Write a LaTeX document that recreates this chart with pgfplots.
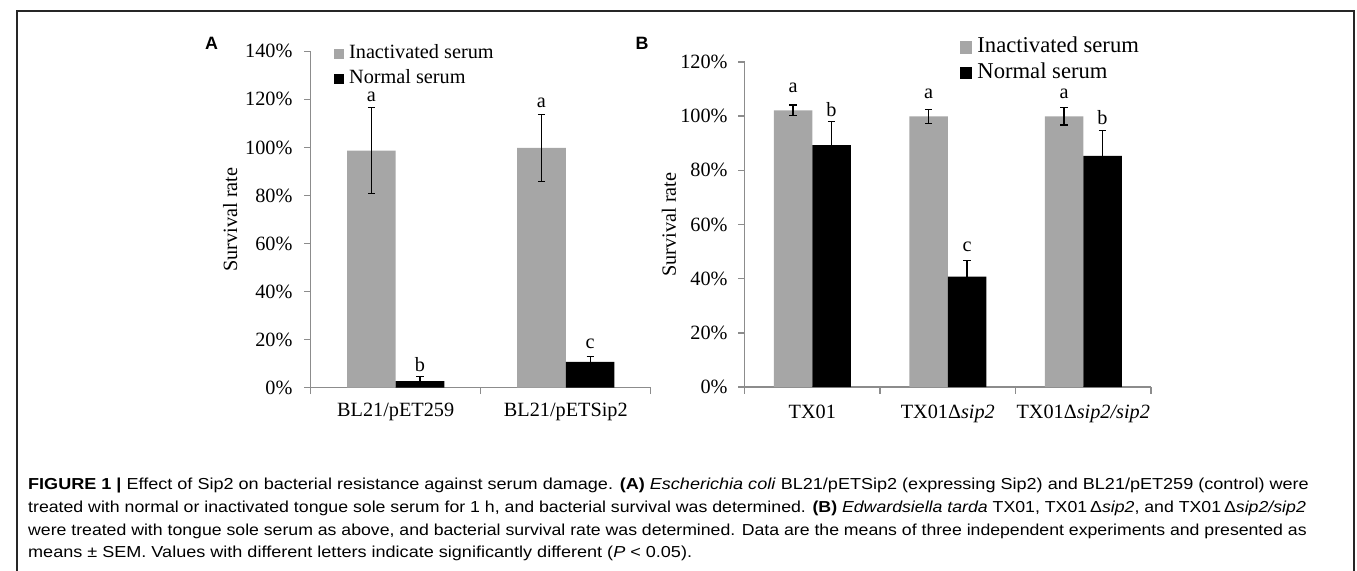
\documentclass[border=0pt]{standalone}
\usepackage{fontspec}
\setmainfont{Liberation Serif}
\newfontfamily\capfont{Liberation Sans}
\usepackage{graphicx}
\usepackage{pgfplots}
\pgfplotsset{compat=1.18}

\definecolor{bargray}{HTML}{A6A6A6}
\definecolor{axgray}{HTML}{8C8C8C}

\newcommand{\tfont}{\fontsize{10.2}{12}\selectfont}
\newcommand{\cfont}{\capfont\fontsize{8}{10}\selectfont}
\tikzset{letter/.style={font=\tfont, anchor=base, inner sep=0pt}}

\newsavebox\capline
\newcommand{\lineone}{\textbf{FIGURE 1 |} Effect of Sip2 on bacterial resistance against serum damage. \textbf{(A)} \textit{Escherichia coli} BL21/pETSip2 (expressing Sip2) and BL21/pET259 (control) were}

\pgfplotsset{
  panel/.style={
    scale only axis, anchor=south west,
    axis x line*=bottom, axis y line*=left,
    axis line style={draw=axgray, line width=0.7pt, -},
    tick style={draw=axgray, line width=0.7pt},
    tick align=outside,
    major tick length=3.2pt,
    ybar=0pt,
    ymin=0,
    xticklabels={},
    extra x tick style={major tick length=0pt,
      xticklabel style={anchor=base, inner sep=0pt}},
    tick label style={font=\tfont},
    yticklabel style={anchor=east, inner sep=0pt},
    ylabel={Survival rate},
    ylabel style={font=\tfont, anchor=center},
    legend image code/.code={\fill[##1] (0pt,0pt) rectangle (5pt,5pt);},
    legend style={draw=none, fill=none, inner sep=0pt, outer sep=0pt,
      anchor=north west, row sep=4.5pt,
      nodes={inner sep=0pt, text height=7pt, text depth=1pt, anchor=base west},
      /tikz/every odd column/.style={column sep=2.5pt}},
    error bars/error bar style={black, line width=0.6pt},
    error bars/error mark options={rotate=90, mark size=1.8pt, line width=0.6pt, black},
  },
  panelB legend/.style={
    legend image code/.code={\fill[##1] (0pt,-0.35pt) rectangle (6.5pt,6.15pt);},
  },
}

\begin{document}
\sbox\capline{\cfont\lineone}
\pgfmathsetmacro\capratio{645pt/\wd\capline}
\begin{tikzpicture}
\useasboundingbox (0,0) rectangle (678.5pt,-287.5pt);
\draw[line width=0.7pt, black!85] (3.5pt,-300pt) -- (3.5pt,-5.5pt) -- (677pt,-5.5pt) -- (677pt,-300pt);

% Panel A
\begin{axis}[panel,
  at={(151.5pt,-195.25pt)},
  width=171.3pt, height=169.4pt,
  xmin=-0.5, xmax=1.5,
  xtick={-0.5,0.5,1.5},
  extra x ticks={0,1},
  extra x tick labels={BL21/pET259, BL21/pETSip2},
  extra x tick style={xticklabel style={yshift=-14.65pt}},
  ymax=140, ytick={0,20,...,140},
  yticklabels={0\%,20\%,40\%,60\%,80\%,100\%,120\%,140\%},
  yticklabel style={xshift=-5.8pt},
  ylabel style={at={(axis description cs:-0.2364,0.5)}},
  bar width=24.5pt,
  legend style={at={(axis description cs:0.0692,1.0189)}, font=\tfont},
]
\addplot[fill=bargray, draw=none, error bars/.cd, y dir=both, y explicit]
  coordinates {(0,98.7) +- (0,18.0) (1,99.8) +- (0,14.0)};
\addplot[fill=black, draw=none, error bars/.cd, y dir=both, y explicit]
  coordinates {(0,2.7) +- (0,1.9) (1,10.7) +- (0,2.2)};
\legend{Inactivated serum, Normal serum}
\node[letter, xshift=-12.25pt] at (axis cs:0,119.0) {a};
\node[letter, xshift=-12.25pt] at (axis cs:1,116.5) {a};
\node[letter, xshift=12.25pt] at (axis cs:0,6.9) {b};
\node[letter, xshift=12.25pt] at (axis cs:1,16.2) {c};
\end{axis}

% Panel B
\begin{axis}[panel, panelB legend,
  at={(370pt,-195pt)},
  width=204.75pt, height=163.85pt,
  xmin=-0.5, xmax=2.5,
  xtick={-0.5,0.5,1.5,2.5},
  extra x ticks={0,1,2},
  extra x tick labels={TX01, TX01Δ\textit{sip2}, TX01Δ\textit{sip2/sip2}},
  extra x tick style={xticklabel style={yshift=-15.9pt}},
  ymax=120, ytick={0,20,...,120},
  yticklabels={0\%,20\%,40\%,60\%,80\%,100\%,120\%},
  yticklabel style={xshift=-5.15pt},
  ylabel style={at={(axis description cs:-0.1856,0.5)}},
  bar width=19.4pt,
  legend style={at={(axis description cs:0.529,1.0732)}, font=\fontsize{11.4}{13}\selectfont,
     nodes={text height=7.5pt, text depth=1pt}, row sep=4.5pt},
]
\addplot[fill=bargray, draw=none, error bars/.cd, y dir=both, y explicit]
  coordinates {(0,102.1) +- (0,2.0) (1,99.9) +- (0,2.5) (2,99.9) +- (0,3.2)};
\addplot[fill=black, draw=none, error bars/.cd, y dir=both, y explicit]
  coordinates {(0,89.3) +- (0,8.6) (1,40.8) +- (0,5.9) (2,85.3) +- (0,9.5)};
\legend{Inactivated serum, Normal serum}
\node[letter, xshift=-9.7pt] at (axis cs:0,108.6) {a};
\node[letter, xshift=9.7pt] at (axis cs:0,99.7) {b};
\node[letter, xshift=-9.7pt] at (axis cs:1,106.4) {a};
\node[letter, xshift=9.7pt] at (axis cs:1,50.2) {c};
\node[letter, xshift=-9.7pt] at (axis cs:2,106.4) {a};
\node[letter, xshift=9.7pt] at (axis cs:2,97.0) {b};
\end{axis}

% panel letters
\node[font=\capfont\bfseries\fontsize{9}{10}\selectfont] at (101.6pt,-21.6pt) {A};
\node[font=\capfont\bfseries\fontsize{9}{10}\selectfont] at (318.4pt,-21.6pt) {B};

% caption
\begin{scope}[every node/.style={anchor=base west, inner sep=0pt, font=\cfont}]
\node at (9pt,-246.5pt) {\resizebox{645pt}{\height}{\lineone}};
\node at (9pt,-258pt) {\resizebox{643.5pt}{\height}{treated with normal or inactivated tongue sole serum for 1 h, and bacterial survival was determined. \textbf{(B)} \textit{Edwardsiella tarda} TX01, TX01\,Δ\textit{sip2}, and TX01\,Δ\textit{sip2/sip2}}};
\node at (9pt,-269.5pt) {\resizebox{644pt}{\height}{were treated with tongue sole serum as above, and bacterial survival rate was determined. Data are the means of three independent experiments and presented as}};
\node at (9pt,-281pt) {\scalebox{\capratio}[1]{means ± SEM. Values with different letters indicate significantly different (\textit{P} < 0.05).}};
\end{scope}
\end{tikzpicture}
\end{document}
